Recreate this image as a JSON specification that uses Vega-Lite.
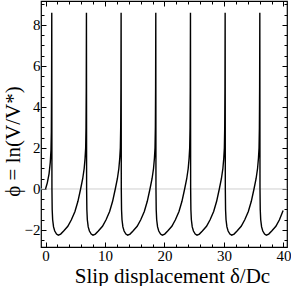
{
  "$schema": "https://vega.github.io/schema/vega-lite/v6.json",
  "width": 246,
  "height": 246,
  "autosize": {"type": "none"},
  "padding": {"left": 41, "top": 1, "right": 4, "bottom": 39},
  "config": {
    "font": "Liberation Serif",
    "view": {"stroke": "black", "strokeWidth": 1.2},
    "axis": {
      "domain": false,
      "grid": false,
      "labelFont": "Liberation Serif",
      "labelFontSize": 15,
      "labelColor": "black",
      "labelOverlap": false,
      "titleFont": "Liberation Serif",
      "titleFontSize": 21,
      "titleFontWeight": "normal",
      "titleColor": "black",
      "tickColor": "black",
      "tickWidth": 1
    }
  },
  "datasets": {
    "curve": [
      {"d": 0, "phi": 0}, {"d": 0.3, "phi": 0.3}, {"d": 0.6, "phi": 0.75}, {"d": 0.8, "phi": 1.3}, {"d": 0.92, "phi": 1.9}, {"d": 0.98, "phi": 2.8}, {"d": 1.02, "phi": 5.0},
      {"d": 1.05, "phi": 8.6}, {"d": 1.08, "phi": 0}, {"d": 1.12, "phi": -1.0}, {"d": 1.2, "phi": -1.5}, {"d": 1.35, "phi": -1.85}, {"d": 1.55, "phi": -2.05}, {"d": 1.85, "phi": -2.2}, {"d": 2.15, "phi": -2.25}, {"d": 2.55, "phi": -2.2}, {"d": 3.05, "phi": -2.05}, {"d": 3.75, "phi": -1.82}, {"d": 4.35, "phi": -1.5}, {"d": 4.95, "phi": -1.1}, {"d": 5.45, "phi": -0.6}, {"d": 5.9, "phi": 0}, {"d": 6.25, "phi": 0.5}, {"d": 6.5, "phi": 1.0}, {"d": 6.65, "phi": 1.5}, {"d": 6.75, "phi": 2.0}, {"d": 6.81, "phi": 3.0}, {"d": 6.85, "phi": 5.0},
      {"d": 6.88, "phi": 8.6}, {"d": 6.91, "phi": 0}, {"d": 6.95, "phi": -1.0}, {"d": 7.03, "phi": -1.5}, {"d": 7.18, "phi": -1.85}, {"d": 7.38, "phi": -2.05}, {"d": 7.68, "phi": -2.2}, {"d": 7.98, "phi": -2.25}, {"d": 8.38, "phi": -2.2}, {"d": 8.88, "phi": -2.05}, {"d": 9.58, "phi": -1.82}, {"d": 10.18, "phi": -1.5}, {"d": 10.78, "phi": -1.1}, {"d": 11.28, "phi": -0.6}, {"d": 11.73, "phi": 0}, {"d": 12.08, "phi": 0.5}, {"d": 12.33, "phi": 1.0}, {"d": 12.48, "phi": 1.5}, {"d": 12.58, "phi": 2.0}, {"d": 12.64, "phi": 3.0}, {"d": 12.68, "phi": 5.0},
      {"d": 12.71, "phi": 8.6}, {"d": 12.74, "phi": 0}, {"d": 12.78, "phi": -1.0}, {"d": 12.86, "phi": -1.5}, {"d": 13.01, "phi": -1.85}, {"d": 13.21, "phi": -2.05}, {"d": 13.51, "phi": -2.2}, {"d": 13.81, "phi": -2.25}, {"d": 14.21, "phi": -2.2}, {"d": 14.71, "phi": -2.05}, {"d": 15.41, "phi": -1.82}, {"d": 16.01, "phi": -1.5}, {"d": 16.61, "phi": -1.1}, {"d": 17.11, "phi": -0.6}, {"d": 17.56, "phi": 0}, {"d": 17.91, "phi": 0.5}, {"d": 18.16, "phi": 1.0}, {"d": 18.31, "phi": 1.5}, {"d": 18.41, "phi": 2.0}, {"d": 18.47, "phi": 3.0}, {"d": 18.51, "phi": 5.0},
      {"d": 18.54, "phi": 8.6}, {"d": 18.57, "phi": 0}, {"d": 18.61, "phi": -1.0}, {"d": 18.69, "phi": -1.5}, {"d": 18.84, "phi": -1.85}, {"d": 19.04, "phi": -2.05}, {"d": 19.34, "phi": -2.2}, {"d": 19.64, "phi": -2.25}, {"d": 20.04, "phi": -2.2}, {"d": 20.54, "phi": -2.05}, {"d": 21.24, "phi": -1.82}, {"d": 21.84, "phi": -1.5}, {"d": 22.44, "phi": -1.1}, {"d": 22.94, "phi": -0.6}, {"d": 23.39, "phi": 0}, {"d": 23.74, "phi": 0.5}, {"d": 23.99, "phi": 1.0}, {"d": 24.14, "phi": 1.5}, {"d": 24.24, "phi": 2.0}, {"d": 24.3, "phi": 3.0}, {"d": 24.34, "phi": 5.0},
      {"d": 24.37, "phi": 8.6}, {"d": 24.4, "phi": 0}, {"d": 24.44, "phi": -1.0}, {"d": 24.52, "phi": -1.5}, {"d": 24.67, "phi": -1.85}, {"d": 24.87, "phi": -2.05}, {"d": 25.17, "phi": -2.2}, {"d": 25.47, "phi": -2.25}, {"d": 25.87, "phi": -2.2}, {"d": 26.37, "phi": -2.05}, {"d": 27.07, "phi": -1.82}, {"d": 27.67, "phi": -1.5}, {"d": 28.27, "phi": -1.1}, {"d": 28.77, "phi": -0.6}, {"d": 29.22, "phi": 0}, {"d": 29.57, "phi": 0.5}, {"d": 29.82, "phi": 1.0}, {"d": 29.97, "phi": 1.5}, {"d": 30.07, "phi": 2.0}, {"d": 30.13, "phi": 3.0}, {"d": 30.17, "phi": 5.0},
      {"d": 30.2, "phi": 8.6}, {"d": 30.23, "phi": 0}, {"d": 30.27, "phi": -1.0}, {"d": 30.35, "phi": -1.5}, {"d": 30.5, "phi": -1.85}, {"d": 30.7, "phi": -2.05}, {"d": 31.0, "phi": -2.2}, {"d": 31.3, "phi": -2.25}, {"d": 31.7, "phi": -2.2}, {"d": 32.2, "phi": -2.05}, {"d": 32.9, "phi": -1.82}, {"d": 33.5, "phi": -1.5}, {"d": 34.1, "phi": -1.1}, {"d": 34.6, "phi": -0.6}, {"d": 35.05, "phi": 0}, {"d": 35.4, "phi": 0.5}, {"d": 35.65, "phi": 1.0}, {"d": 35.8, "phi": 1.5}, {"d": 35.9, "phi": 2.0}, {"d": 35.96, "phi": 3.0}, {"d": 36.0, "phi": 5.0},
      {"d": 36.03, "phi": 8.6}, {"d": 36.06, "phi": 0}, {"d": 36.1, "phi": -1.0}, {"d": 36.18, "phi": -1.5}, {"d": 36.33, "phi": -1.85}, {"d": 36.53, "phi": -2.05}, {"d": 36.83, "phi": -2.2}, {"d": 37.13, "phi": -2.25}, {"d": 37.53, "phi": -2.2}, {"d": 38.03, "phi": -2.05}, {"d": 38.73, "phi": -1.82}, {"d": 39.33, "phi": -1.5}, {"d": 39.95, "phi": -1.05}
    ]
  },
  "layer": [
    {
      "data": {"values": [{"y": 0}]},
      "mark": {"type": "rule", "color": "#cfcfcf", "strokeWidth": 1},
      "encoding": {
        "y": {"field": "y", "type": "quantitative", "scale": {"domain": [-2.83, 9.17], "nice": false, "zero": false}, "axis": null}
      }
    },
    {
      "data": {"name": "curve"},
      "mark": {"type": "line", "color": "black", "strokeWidth": 1.4},
      "encoding": {
        "x": {
          "field": "d", "type": "quantitative",
          "scale": {"domain": [-0.76, 40.6], "nice": false, "zero": false},
          "axis": {
            "orient": "bottom",
            "title": "Slip displacement δ/Dc",
            "labelFont": "Liberation Serif",
            "titleFont": "Liberation Serif",
            "values": [0, 2, 4, 6, 8, 10, 12, 14, 16, 18, 20, 22, 24, 26, 28, 30, 32, 34, 36, 38, 40],
            "labelExpr": "datum.value % 10 === 0 ? '' + datum.value : ''",
            "tickSize": {"condition": {"test": "datum.value % 10 === 0", "value": -5}, "value": -3},
            "labelPadding": 6,
            "titlePadding": 0,
            "titleX": 131
          }
        },
        "y": {
          "field": "phi", "type": "quantitative",
          "scale": {"domain": [-2.83, 9.17], "nice": false, "zero": false},
          "axis": {
            "orient": "left",
            "title": "ϕ  =  ln(V/V*)",
            "titleFontSize": 21,
            "labelFont": "Liberation Serif",
            "titleFont": "Liberation Serif",
            "values": [-2.5, -2, -1.5, -1, -0.5, 0, 0.5, 1, 1.5, 2, 2.5, 3, 3.5, 4, 4.5, 5, 5.5, 6, 6.5, 7, 7.5, 8, 8.5, 9],
            "labelExpr": "datum.value % 2 === 0 ? (datum.value < 0 ? '−' + abs(datum.value) : '' + datum.value) : ''",
            "tickSize": {"condition": {"test": "datum.value % 2 === 0", "value": -5}, "value": -3},
            "labelPadding": 6,
            "titlePadding": 1,
            "titleY": 140
          }
        }
      }
    },
    {
      "data": {"name": "curve"},
      "mark": {"type": "line", "opacity": 0},
      "encoding": {
        "x": {
          "field": "d", "type": "quantitative",
          "scale": {"domain": [-0.76, 40.6], "nice": false, "zero": false},
          "axis": {
            "orient": "top", "title": null, "labels": false,
            "values": [0, 2, 4, 6, 8, 10, 12, 14, 16, 18, 20, 22, 24, 26, 28, 30, 32, 34, 36, 38, 40],
            "tickSize": {"condition": {"test": "datum.value % 10 === 0", "value": -5}, "value": -3}
          }
        },
        "y": {
          "field": "phi", "type": "quantitative",
          "scale": {"domain": [-2.83, 9.17], "nice": false, "zero": false},
          "axis": {
            "orient": "right", "title": null, "labels": false,
            "values": [-2.5, -2, -1.5, -1, -0.5, 0, 0.5, 1, 1.5, 2, 2.5, 3, 3.5, 4, 4.5, 5, 5.5, 6, 6.5, 7, 7.5, 8, 8.5, 9],
            "tickSize": {"condition": {"test": "datum.value % 2 === 0", "value": -5}, "value": -3}
          }
        }
      }
    }
  ],
  "resolve": {"scale": {"x": "independent", "y": "independent"}, "axis": {"x": "independent", "y": "independent"}}
}
